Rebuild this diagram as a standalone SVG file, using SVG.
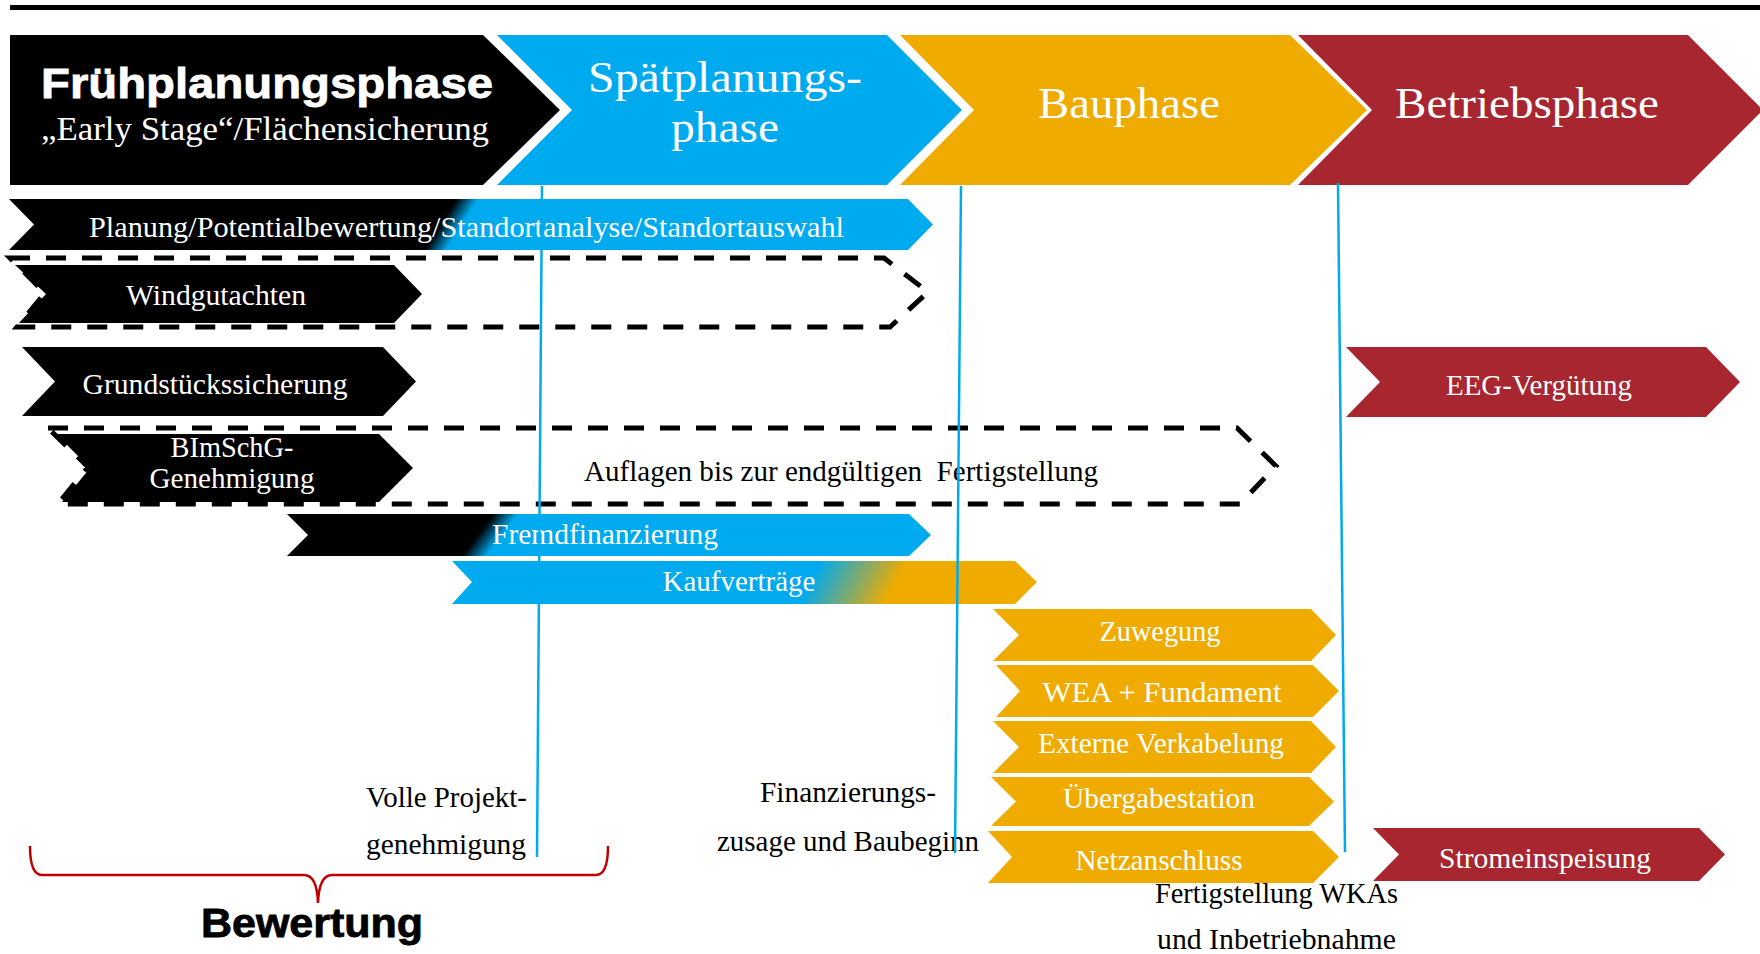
<svg xmlns="http://www.w3.org/2000/svg" width="1760" height="954" viewBox="0 0 1760 954">
<defs>
<style>
.serif{font-family:"Liberation Serif","DejaVu Serif",serif;}
.sans{font-family:"Liberation Sans",Arial,sans-serif;font-weight:bold;}
.wt{fill:#ffffff;}
.bt{fill:#000000;}
.body{font-size:29px;}
.phase{font-size:44px;}
.blk{fill:#000000;}
.blue{fill:#00AAEF;}
.orange{fill:#EFAB00;}
.red{fill:#A82630;}
.dash{fill:none;stroke:#000000;stroke-width:5;stroke-dasharray:20 16;}
.ms{fill:none;stroke:#00AAEF;stroke-width:2.5;}
</style>
<linearGradient id="gPlan" gradientUnits="userSpaceOnUse" x1="443" y1="220" x2="459" y2="230">
<stop offset="0" stop-color="#000000"/><stop offset="1" stop-color="#00AAEF"/>
</linearGradient>
<linearGradient id="gFremd" gradientUnits="userSpaceOnUse" x1="482" y1="529" x2="498" y2="541">
<stop offset="0" stop-color="#000000"/><stop offset="1" stop-color="#00AAEF"/>
</linearGradient>
<linearGradient id="gKauf" gradientUnits="userSpaceOnUse" x1="819" y1="564" x2="887" y2="600">
<stop offset="0" stop-color="#00AAEF"/><stop offset="1" stop-color="#EFAB00"/>
</linearGradient>
</defs>
<rect x="0" y="0" width="1760" height="954" fill="#ffffff"/>
<rect x="10" y="5" width="1750" height="5" fill="#000000"/>

<g id="phase-fruehplanung">
<polygon class="blk" points="10,35 483,35 560,110 483,185 10,185"/>
<text class="sans wt" x="41" y="98" font-size="43" textLength="452" lengthAdjust="spacingAndGlyphs" stroke="#ffffff" stroke-width="0.8">Frühplanungsphase</text>
<text class="serif wt" x="41" y="140" font-size="33" textLength="448" lengthAdjust="spacingAndGlyphs">„Early Stage“/Flächensicherung</text>
</g>
<g id="phase-spaetplanung">
<polygon class="blue" points="497,35 887,35 962,110 887,185 497,185 572,110"/>
<text class="serif wt phase" x="725" y="92" text-anchor="middle" textLength="274" lengthAdjust="spacingAndGlyphs">Spätplanungs-</text>
<text class="serif wt phase" x="725" y="142" text-anchor="middle" textLength="108" lengthAdjust="spacingAndGlyphs">phase</text>
</g>
<g id="phase-bau">
<polygon class="orange" points="900,35 1290,35 1367,110 1290,185 900,185 974,110"/>
<text class="serif wt phase" x="1129" y="118" text-anchor="middle" textLength="182" lengthAdjust="spacingAndGlyphs">Bauphase</text>
</g>
<g id="phase-betrieb">
<polygon class="red" points="1298,35 1688,35 1763,110 1688,185 1298,185 1372,110"/>
<text class="serif wt phase" x="1527" y="118" text-anchor="middle" textLength="264" lengthAdjust="spacingAndGlyphs">Betriebsphase</text>
</g>

<g id="planung">
<polygon fill="url(#gPlan)" points="9,199 908,199 933,224.5 908,250 9,250 34,224.5"/>
<text class="serif wt body" x="89" y="237" textLength="755" lengthAdjust="spacingAndGlyphs">Planung/Potentialbewertung/Standortanalyse/Standortauswahl</text>
</g>

<g id="windgutachten-frame">
<polygon class="dash" points="10,258 884,258 928,292 890,327 17,327 45,293"/>
</g>
<g id="windgutachten">
<polygon class="blk" points="15,265 394,265 422,294 394,323 19,323 46,294"/>
<text class="serif wt body" x="216" y="305" text-anchor="middle" textLength="180" lengthAdjust="spacingAndGlyphs">Windgutachten</text>
</g>

<g id="grundstueckssicherung">
<polygon class="blk" points="22,347 383,347 416,381.5 383,416 22,416 55,381.5"/>
<text class="serif wt body" x="215" y="394" text-anchor="middle" textLength="265" lengthAdjust="spacingAndGlyphs">Grundstückssicherung</text>
</g>

<g id="eeg-verguetung">
<polygon class="red" points="1346,347 1706,347 1740,382 1706,417 1346,417 1380,382"/>
<text class="serif wt body" x="1539" y="395" text-anchor="middle" textLength="186" lengthAdjust="spacingAndGlyphs">EEG-Vergütung</text>
</g>

<g id="auflagen">
<polygon class="dash" points="48,428 1237,428 1276,466 1240,504 58,504 88,467"/>
<text class="serif bt body" x="584" y="481" xml:space="preserve" textLength="514" lengthAdjust="spacingAndGlyphs">Auflagen bis zur endgültigen  Fertigstellung</text>
</g>
<g id="bimschg">
<polygon class="blk" points="56,434 379,434 413,468 379,502 62,502 90,468"/>
<text class="serif wt body" x="232" y="457" text-anchor="middle" textLength="123" lengthAdjust="spacingAndGlyphs">BImSchG-</text>
<text class="serif wt body" x="232" y="488" text-anchor="middle" textLength="165" lengthAdjust="spacingAndGlyphs">Genehmigung</text>
</g>

<g id="fremdfinanzierung">
<polygon fill="url(#gFremd)" points="287,514 909,514 931,535 909,556 287,556 308,535"/>
<text class="serif wt body" x="492" y="544" textLength="226" lengthAdjust="spacingAndGlyphs">Fremdfinanzierung</text>
</g>

<g id="kaufvertraege">
<polygon fill="url(#gKauf)" points="452,561 1015,561 1037,582 1015,604 452,604 472,582"/>
<text class="serif wt body" x="739" y="591" text-anchor="middle" textLength="153" lengthAdjust="spacingAndGlyphs">Kaufverträge</text>
</g>

<g id="zuwegung">
<polygon class="orange" points="993,609 1311,609 1336,635 1311,661 993,661 1019,635"/>
<text class="serif wt body" x="1160" y="641" text-anchor="middle" textLength="121" lengthAdjust="spacingAndGlyphs">Zuwegung</text>
</g>
<g id="wea-fundament">
<polygon class="orange" points="996,665 1313,665 1339,691 1313,717 996,717 1020,691"/>
<text class="serif wt body" x="1162" y="702" text-anchor="middle" textLength="239" lengthAdjust="spacingAndGlyphs">WEA + Fundament</text>
</g>
<g id="externe-verkabelung">
<polygon class="orange" points="993,721 1311,721 1336,747 1311,773 993,773 1019,747"/>
<text class="serif wt body" x="1161" y="753" text-anchor="middle" textLength="246" lengthAdjust="spacingAndGlyphs">Externe Verkabelung</text>
</g>
<g id="uebergabestation">
<polygon class="orange" points="991,777 1309,777 1334,801.5 1309,826 991,826 1016,801.5"/>
<text class="serif wt body" x="1159" y="808" text-anchor="middle" textLength="192" lengthAdjust="spacingAndGlyphs">Übergabestation</text>
</g>
<g id="netzanschluss">
<polygon class="orange" points="988,831 1313,831 1339,857 1313,883 988,883 1012,857"/>
<text class="serif wt body" x="1159" y="870" text-anchor="middle" textLength="167" lengthAdjust="spacingAndGlyphs">Netzanschluss</text>
</g>
<g id="stromeinspeisung">
<polygon class="red" points="1373,828 1699,828 1725,854.5 1699,881 1373,881 1399,854.5"/>
<text class="serif wt body" x="1545" y="868" text-anchor="middle" textLength="212" lengthAdjust="spacingAndGlyphs">Stromeinspeisung</text>
</g>

<g id="milestone-genehmigung">
<text class="serif bt body" x="366" y="807" textLength="161" lengthAdjust="spacingAndGlyphs">Volle Projekt-</text>
<text class="serif bt body" x="366" y="854" textLength="160" lengthAdjust="spacingAndGlyphs">genehmigung</text>
</g>
<g id="milestone-finanzierung">
<text class="serif bt body" x="760" y="802" textLength="176" lengthAdjust="spacingAndGlyphs">Finanzierungs-</text>
<text class="serif bt body" x="717" y="851" textLength="262" lengthAdjust="spacingAndGlyphs">zusage und Baubeginn</text>
</g>
<g id="milestone-inbetriebnahme">
<text class="serif bt body" x="1155" y="903" textLength="243" lengthAdjust="spacingAndGlyphs">Fertigstellung WKAs</text>
<text class="serif bt body" x="1157" y="949" textLength="239" lengthAdjust="spacingAndGlyphs">und Inbetriebnahme</text>
</g>

<g id="bewertung">
<path d="M30,846 Q30,875 42,875 L304,875 Q317,875 318,903 Q319,875 332,875 L596,875 Q608,875 608,846" fill="none" stroke="#C00000" stroke-width="2.5"/>
<text class="sans bt" x="201" y="937" font-size="40" textLength="222" lengthAdjust="spacingAndGlyphs" stroke="#000000" stroke-width="0.8">Bewertung</text>
</g>

<g id="connectors">
<line class="ms" x1="542" y1="186" x2="537" y2="857"/>
<line class="ms" x1="961" y1="186" x2="955" y2="853"/>
<line class="ms" x1="1338" y1="183" x2="1345" y2="852"/>
</g>
</svg>
